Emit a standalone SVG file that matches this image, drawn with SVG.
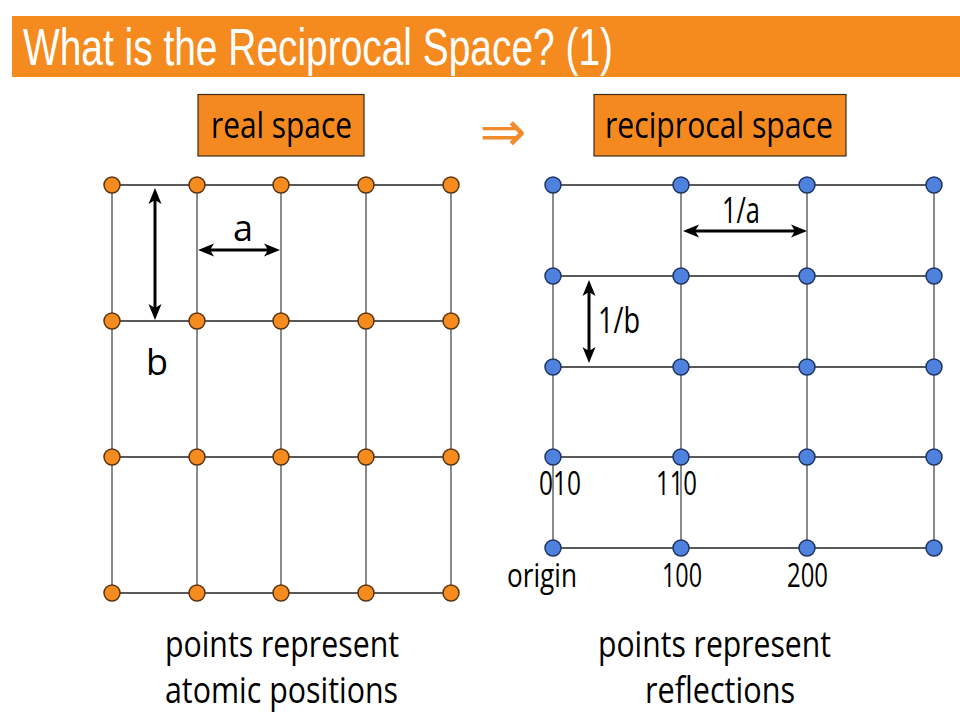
<svg xmlns="http://www.w3.org/2000/svg" width="960" height="720" viewBox="0 0 960 720">
<style>
.t{font-family:"Open Sans","Noto Sans","DejaVu Sans",sans-serif;fill:#000}
.title{font-family:"Liberation Sans Narrow","Liberation Sans",Arial,sans-serif;fill:#fff;font-size:52px}
.hl{stroke:#222;stroke-width:1.5}
.vl{stroke:#8a8a8a;stroke-width:2}
.od{fill:#F68B1F;stroke:#5a3412;stroke-width:1.5}
.bd{fill:#4F81DE;stroke:#1f3560;stroke-width:1.5}
.box{fill:#F48A1F;stroke:#3a2a1a;stroke-width:1.2}
.arr{stroke:#000;stroke-width:3;fill:none;marker-start:url(#ah);marker-end:url(#ah)}
</style>
<defs>
<marker id="ah" viewBox="0 0 16 14" refX="9" refY="7" markerWidth="16" markerHeight="14" markerUnits="userSpaceOnUse" orient="auto-start-reverse">
<path d="M0,0.5 L16,7 L0,13.5 L4,7 z" fill="#000"/>
</marker>
</defs>
<rect width="960" height="720" fill="#fff"/>
<g id="title">
<rect x="12" y="16" width="948" height="61" fill="#F58A1F"/>
<text class="title" x="23" y="65" textLength="590" lengthAdjust="spacingAndGlyphs">What is the Reciprocal Space? (1)</text>
</g>
<g id="real-space-label">
<rect class="box" x="198" y="94.5" width="166" height="61.5"/>
<text class="t" x="211" y="138" font-size="36" textLength="141" lengthAdjust="spacingAndGlyphs">real space</text>
</g>
<g id="implies">
<text x="503" y="151" text-anchor="middle" font-family="DejaVu Sans, sans-serif" font-size="56" fill="#F28A2E">⇒</text>
</g>
<g id="reciprocal-space-label">
<rect class="box" x="594" y="94.5" width="252" height="61.5"/>
<text class="t" x="605" y="138" font-size="36" textLength="228" lengthAdjust="spacingAndGlyphs">reciprocal space</text>
</g>
<g id="connectors">
<g id="real-grid-lines">
<line class="vl" x1="112" y1="185" x2="112" y2="593"/>
<line class="vl" x1="197" y1="185" x2="197" y2="593"/>
<line class="vl" x1="281" y1="185" x2="281" y2="593"/>
<line class="vl" x1="366" y1="185" x2="366" y2="593"/>
<line class="vl" x1="451" y1="185" x2="451" y2="593"/>
<line class="hl" x1="112" y1="185" x2="451" y2="185"/>
<line class="hl" x1="112" y1="321" x2="451" y2="321"/>
<line class="hl" x1="112" y1="457" x2="451" y2="457"/>
<line class="hl" x1="112" y1="593" x2="451" y2="593"/>
</g>
<g id="recip-grid-lines">
<line class="vl" x1="553" y1="185" x2="553" y2="548"/>
<line class="vl" x1="681" y1="185" x2="681" y2="548"/>
<line class="vl" x1="807" y1="185" x2="807" y2="548"/>
<line class="vl" x1="934" y1="185" x2="934" y2="548"/>
<line class="hl" x1="553" y1="185" x2="934" y2="185"/>
<line class="hl" x1="553" y1="276" x2="934" y2="276"/>
<line class="hl" x1="553" y1="367" x2="934" y2="367"/>
<line class="hl" x1="553" y1="457" x2="934" y2="457"/>
<line class="hl" x1="553" y1="548" x2="934" y2="548"/>
</g>
<line id="arrow-b" class="arr" x1="155" y1="195" x2="155" y2="313"/>
<line id="arrow-a" class="arr" x1="205" y1="250" x2="273" y2="250"/>
<line id="arrow-1a" class="arr" x1="690" y1="231" x2="800" y2="231"/>
<line id="arrow-1b" class="arr" x1="589" y1="287" x2="589" y2="356"/>
</g>
<g id="real-lattice">
<circle class="od" cx="112" cy="185" r="8"/><circle class="od" cx="197" cy="185" r="8"/><circle class="od" cx="281" cy="185" r="8"/><circle class="od" cx="366" cy="185" r="8"/><circle class="od" cx="451" cy="185" r="8"/>
<circle class="od" cx="112" cy="321" r="8"/><circle class="od" cx="197" cy="321" r="8"/><circle class="od" cx="281" cy="321" r="8"/><circle class="od" cx="366" cy="321" r="8"/><circle class="od" cx="451" cy="321" r="8"/>
<circle class="od" cx="112" cy="457" r="8"/><circle class="od" cx="197" cy="457" r="8"/><circle class="od" cx="281" cy="457" r="8"/><circle class="od" cx="366" cy="457" r="8"/><circle class="od" cx="451" cy="457" r="8"/>
<circle class="od" cx="112" cy="593" r="8"/><circle class="od" cx="197" cy="593" r="8"/><circle class="od" cx="281" cy="593" r="8"/><circle class="od" cx="366" cy="593" r="8"/><circle class="od" cx="451" cy="593" r="8"/>
</g>
<g id="recip-lattice">
<circle class="bd" cx="553" cy="185" r="8"/><circle class="bd" cx="681" cy="185" r="8"/><circle class="bd" cx="807" cy="185" r="8"/><circle class="bd" cx="934" cy="185" r="8"/>
<circle class="bd" cx="553" cy="276" r="8"/><circle class="bd" cx="681" cy="276" r="8"/><circle class="bd" cx="807" cy="276" r="8"/><circle class="bd" cx="934" cy="276" r="8"/>
<circle class="bd" cx="553" cy="367" r="8"/><circle class="bd" cx="681" cy="367" r="8"/><circle class="bd" cx="807" cy="367" r="8"/><circle class="bd" cx="934" cy="367" r="8"/>
<circle class="bd" cx="553" cy="457" r="8"/><circle class="bd" cx="681" cy="457" r="8"/><circle class="bd" cx="807" cy="457" r="8"/><circle class="bd" cx="934" cy="457" r="8"/>
<circle class="bd" cx="553" cy="548" r="8"/><circle class="bd" cx="681" cy="548" r="8"/><circle class="bd" cx="807" cy="548" r="8"/><circle class="bd" cx="934" cy="548" r="8"/>
</g>
<g id="labels">
<text class="t" x="243" y="241" font-size="36" text-anchor="middle">a</text>
<text class="t" x="157" y="375" font-size="36" text-anchor="middle">b</text>
<text class="t" x="722" y="223" font-size="37" textLength="38" lengthAdjust="spacingAndGlyphs">1/a</text>
<text class="t" x="598" y="333" font-size="37" textLength="42" lengthAdjust="spacingAndGlyphs">1/b</text>
<text class="t" x="539" y="495" font-size="33" textLength="42" lengthAdjust="spacingAndGlyphs">010</text>
<text class="t" x="656" y="495" font-size="33" textLength="41" lengthAdjust="spacingAndGlyphs">110</text>
<text class="t" x="507" y="587" font-size="33" textLength="70" lengthAdjust="spacingAndGlyphs">origin</text>
<text class="t" x="662" y="587" font-size="33" textLength="40" lengthAdjust="spacingAndGlyphs">100</text>
<text class="t" x="787" y="587" font-size="33" textLength="41" lengthAdjust="spacingAndGlyphs">200</text>
</g>
<g id="captions">
<text class="t" x="165" y="657" font-size="37" textLength="234" lengthAdjust="spacingAndGlyphs">points represent</text>
<text class="t" x="165" y="703" font-size="37" textLength="233" lengthAdjust="spacingAndGlyphs">atomic positions</text>
<text class="t" x="598" y="657" font-size="37" textLength="233" lengthAdjust="spacingAndGlyphs">points represent</text>
<text class="t" x="645" y="703" font-size="37" textLength="150" lengthAdjust="spacingAndGlyphs">reflections</text>
</g>
</svg>
